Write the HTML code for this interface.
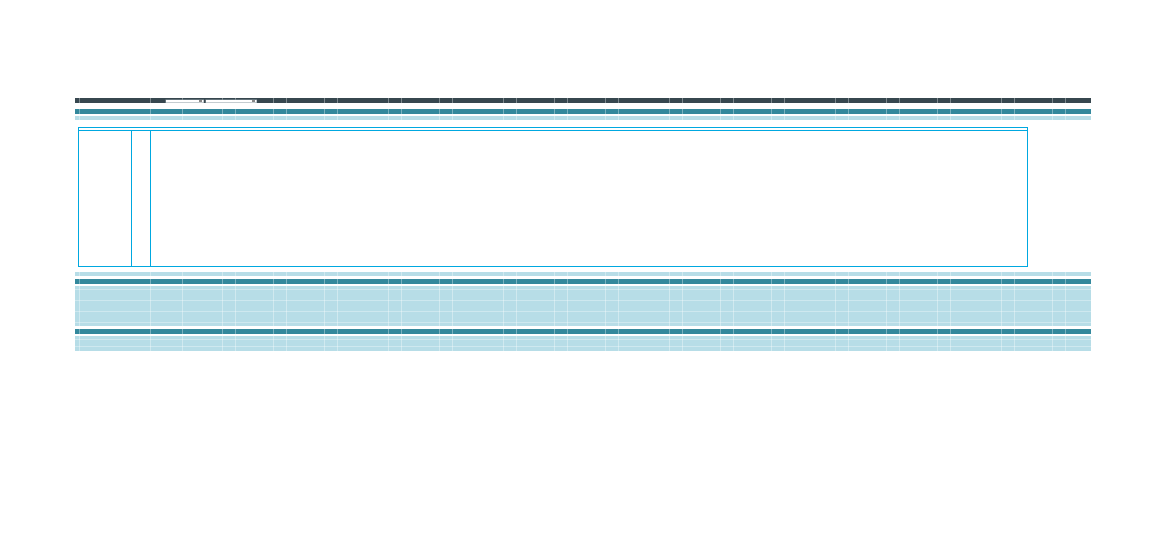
<!DOCTYPE html>
<html><head><meta charset="utf-8"><style>html,body{margin:0;padding:0;background:#fff;width:1166px;height:548px;overflow:hidden}</style></head>
<body>
<svg width="1166" height="548" xmlns="http://www.w3.org/2000/svg" shape-rendering="crispEdges">
<rect x="75" y="98" width="1016" height="5" fill="#37474f"/>
<rect x="75" y="109" width="1016" height="5" fill="#33889c"/>
<rect x="75" y="116" width="1016" height="4" fill="#b7dde7"/>
<rect x="75" y="272" width="1016" height="4" fill="#b7dde7"/>
<rect x="75" y="279" width="1016" height="5" fill="#33889c"/>
<rect x="75" y="286" width="1016" height="40" fill="#b7dde7"/>
<rect x="75" y="329" width="1016" height="5" fill="#33889c"/>
<rect x="75" y="336" width="1016" height="15" fill="#b7dde7"/>
<g stroke="#d8eef3" stroke-width="1" opacity="0.7">
<line x1="75" y1="289.5" x2="1091" y2="289.5"/>
<line x1="75" y1="300.5" x2="1091" y2="300.5"/>
<line x1="75" y1="311.5" x2="1091" y2="311.5"/>
<line x1="75" y1="322.5" x2="1091" y2="322.5"/>
<line x1="75" y1="339.5" x2="1091" y2="339.5"/>
<line x1="75" y1="346.5" x2="1091" y2="346.5"/>
</g>
<g stroke="#ffffff" stroke-opacity="0.35" stroke-width="1">
<line x1="79.5" y1="98" x2="79.5" y2="351"/>
<line x1="150.5" y1="98" x2="150.5" y2="351"/>
<line x1="182.5" y1="98" x2="182.5" y2="351"/>
<line x1="222.5" y1="98" x2="222.5" y2="351"/>
<line x1="235.5" y1="98" x2="235.5" y2="351"/>
<line x1="273.5" y1="98" x2="273.5" y2="351"/>
<line x1="286.5" y1="98" x2="286.5" y2="351"/>
<line x1="324.5" y1="98" x2="324.5" y2="351"/>
<line x1="337.5" y1="98" x2="337.5" y2="351"/>
<line x1="388.5" y1="98" x2="388.5" y2="351"/>
<line x1="401.5" y1="98" x2="401.5" y2="351"/>
<line x1="439.5" y1="98" x2="439.5" y2="351"/>
<line x1="452.5" y1="98" x2="452.5" y2="351"/>
<line x1="503.5" y1="98" x2="503.5" y2="351"/>
<line x1="516.5" y1="98" x2="516.5" y2="351"/>
<line x1="554.5" y1="98" x2="554.5" y2="351"/>
<line x1="567.5" y1="98" x2="567.5" y2="351"/>
<line x1="605.5" y1="98" x2="605.5" y2="351"/>
<line x1="618.5" y1="98" x2="618.5" y2="351"/>
<line x1="669.5" y1="98" x2="669.5" y2="351"/>
<line x1="682.5" y1="98" x2="682.5" y2="351"/>
<line x1="720.5" y1="98" x2="720.5" y2="351"/>
<line x1="733.5" y1="98" x2="733.5" y2="351"/>
<line x1="771.5" y1="98" x2="771.5" y2="351"/>
<line x1="784.5" y1="98" x2="784.5" y2="351"/>
<line x1="835.5" y1="98" x2="835.5" y2="351"/>
<line x1="848.5" y1="98" x2="848.5" y2="351"/>
<line x1="886.5" y1="98" x2="886.5" y2="351"/>
<line x1="899.5" y1="98" x2="899.5" y2="351"/>
<line x1="937.5" y1="98" x2="937.5" y2="351"/>
<line x1="950.5" y1="98" x2="950.5" y2="351"/>
<line x1="1001.5" y1="98" x2="1001.5" y2="351"/>
<line x1="1014.5" y1="98" x2="1014.5" y2="351"/>
<line x1="1052.5" y1="98" x2="1052.5" y2="351"/>
<line x1="1065.5" y1="98" x2="1065.5" y2="351"/>
</g>
<rect x="126" y="121" width="1000" height="150" fill="#fff"/>
<rect x="165.5" y="99.5" width="38" height="3" fill="#fff" stroke="#8a9aa0" stroke-width="0.5"/>
<rect x="205.5" y="99.5" width="51" height="3" fill="#fff" stroke="#8a9aa0" stroke-width="0.5"/>
<rect x="199" y="100" width="3" height="2" fill="#888"/>
<rect x="252" y="100" width="3" height="2" fill="#888"/>
<rect x="76" y="121" width="1015" height="150" fill="#fff"/>
<g fill="none" stroke="#00a8e0" stroke-width="1">
<rect x="78.5" y="127.5" width="949" height="139"/>
<line x1="78.5" y1="130.5" x2="1027.5" y2="130.5"/>
<line x1="131.5" y1="130.5" x2="131.5" y2="266.5"/>
<line x1="150.5" y1="130.5" x2="150.5" y2="266.5"/>
</g>
</svg>
</body></html>
